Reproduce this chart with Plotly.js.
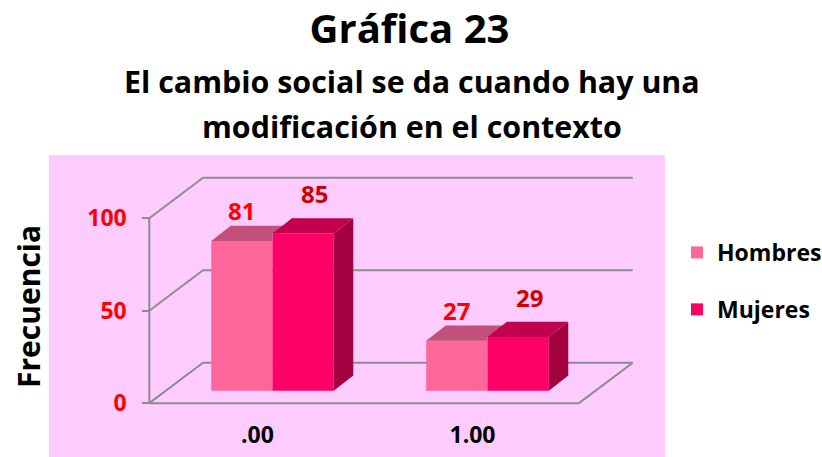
<!DOCTYPE html>
<html>
<head>
<meta charset="utf-8">
<script src="https://cdn.plot.ly/plotly-3.0.1.min.js"></script>
<style>
  html, body { margin: 0; padding: 0; background: #ffffff; }
  #chart { width: 822px; height: 457px; }
</style>
</head>
<body>
<div id="chart"></div>
<script>
// ---------------- data ----------------
const chartTitle = 'Gráfica 23';
const subtitleLines = ['El cambio social se da cuando hay una', 'modificación en el contexto'];
const yAxisTitle = 'Frecuencia';
const categories = ['.00', '1.00'];
const seriesNames = ['Hombres', 'Mujeres'];
const hombres = [81, 27];
const mujeres = [85, 29];
const yTickValues = [0, 50, 100];

// ---------------- styles / geometry ----------------
const FONT = '"Open Sans", Lato, "DejaVu Sans", sans-serif';
const frontColors = ['#FF6699', '#FF0066'];
const topColors = ['#C2507A', '#C2004E'];
const sideColors = ['#A33060', '#A3003F'];
const labelColors = ['#FF0000', '#D00000'];
const labelShift = [{x: 0, y: 30}, {x: 11, y: 40}];
const gridColor = '#8C8C8C';
const bgPink = '#FFCCFF';

const W = 822, H = 457;
const M = {l: 49, r: 157, t: 155, b: 0, autoexpand: false};
const plotW = W - M.l - M.r, plotH = H - M.t - M.b;
const xRange = [-1.0395, 1.8256];
const yRange = [-35.8, 127.45];
const kx = plotW / (xRange[1] - xRange[0]);   // px per x unit
const ky = plotH / (yRange[1] - yRange[0]);   // px per y unit
const bargap = 0.43;
const barW = (1 - bargap) / 2;

const ux = px => px / kx;
const uy = px => px / ky;   // upward pixels -> value units
const D = {x: ux(19.5), y: uy(15.3)};     // bar depth
const F = {x: ux(-16.5), y: uy(-12.4)};   // front plane offset from bar plane
const B = {x: ux(37.2), y: uy(28)};       // back wall offset from bar plane
const xL = xRange[0] + (165.8 - M.l) / kx;
const xR = xRange[0] + (595.5 - M.l) / kx;
const wallTop = Math.max(...yTickValues);

const series = [hombres, mujeres];
const xIdx = categories.map((c, i) => i);

// ---------------- traces ----------------
const traces = series.map((vals, s) => ({
  type: 'bar',
  name: seriesNames[s],
  x: xIdx,
  y: vals,
  legendgroup: 'g' + s,
  marker: {color: frontColors[s], line: {width: 0}},
  customdata: categories,
  textposition: 'none',
  hovertemplate: seriesNames[s] + ' %{customdata}: %{y}<extra></extra>'
}));
traces.push({type: 'scatter', x: [], y: [], yaxis: 'y2', showlegend: false, hoverinfo: 'skip'});

// ---------------- shapes ----------------
const shapes = [];
const line = (x0, y0, x1, y1) => ({
  type: 'line', xref: 'x', yref: 'y', x0, y0, x1, y1, layer: 'below',
  line: {color: gridColor, width: 2}
});
yTickValues.forEach(t => {
  shapes.push(line(xL + B.x, t + B.y, xR + B.x, t + B.y));
  shapes.push(line(xL + F.x, t + F.y, xL + B.x, t + B.y));
});
shapes.push(line(xL + F.x, F.y, xR + F.x, F.y));
shapes.push(line(xR + F.x, F.y, xR + B.x, B.y));
shapes.push(line(xL + F.x, F.y, xL + F.x, wallTop + F.y));

const path = pts => 'M ' + pts.map(p => p[0] + ',' + p[1]).join(' L ') + ' Z';
const face = (pts, color) => ({
  type: 'path', xref: 'x', yref: 'y', path: path(pts), fillcolor: color,
  line: {width: 0}, layer: 'above'
});
xIdx.forEach(i => {
  series.forEach((vals, s) => {
    const v = vals[i];
    const x0 = i - (1 - bargap) / 2 + s * barW;
    const x1 = x0 + barW;
    const next = s + 1 < series.length ? series[s + 1][i] : null;
    let top;
    if (next !== null && next > v) {
      const vm = Math.min(next, v + D.y);
      top = [[x0, v], [x1, v], [x1, vm], [x1 + (vm - v) * D.x / D.y, vm],
             [x1 + D.x, v + D.y], [x0 + D.x, v + D.y]];
    } else {
      top = [[x0, v], [x1, v], [x1 + D.x, v + D.y], [x0 + D.x, v + D.y]];
    }
    shapes.push(face(top, topColors[s]));
    if (next === null) {
      shapes.push(face([[x1, 0], [x1, v], [x1 + D.x, v + D.y], [x1 + D.x, D.y]], sideColors[s]));
    }
  });
});

// ---------------- annotations ----------------
const annotations = [];
xIdx.forEach(i => {
  series.forEach((vals, s) => {
    annotations.push({
      xref: 'x', yref: 'y', x: i - (1 - bargap) / 2 + (s + 0.5) * barW, y: vals[i],
      text: String(vals[i]), showarrow: false, xanchor: 'center', yanchor: 'middle',
      xshift: labelShift[s].x, yshift: labelShift[s].y,
      font: {family: FONT, size: 24, weight: 'bold', color: labelColors[s]}
    });
  });
});
const pyPaper = px => (H - M.b - px) / plotH;
const pxPaper = px => (px - M.l) / plotW;
const subSize = 30.4;
[92.3, 137.7].forEach((baseline, k) => {
  annotations.push({
    xref: 'paper', yref: 'paper', x: pxPaper(412), y: pyPaper(baseline - 0.36 * subSize),
    text: subtitleLines[k], showarrow: false, xanchor: 'center', yanchor: 'middle',
    font: {family: FONT, size: subSize, weight: 'bold', color: '#000000'}
  });
});
annotations.push({
  xref: 'paper', yref: 'paper', x: pxPaper(28), y: pyPaper(307),
  text: yAxisTitle, textangle: -90, showarrow: false, xanchor: 'center', yanchor: 'middle',
  font: {family: FONT, size: 30, weight: 'bold', color: '#000000'}
});

// ---------------- layout ----------------
const layout = {
  width: W, height: H,
  margin: M,
  paper_bgcolor: '#ffffff',
  plot_bgcolor: bgPink,
  barmode: 'group',
  bargap: bargap,
  bargroupgap: 0,
  title: {
    text: chartTitle, x: 409.5 / W, xanchor: 'center', xref: 'container',
    y: 1 - 28.5 / H, yanchor: 'middle', yref: 'container',
    font: {family: FONT, size: 40, weight: 'bold', color: '#000000'}
  },
  xaxis: {
    range: xRange, tickvals: xIdx, ticktext: categories,
    anchor: 'free', position: (H - M.b - 419) / plotH,
    showgrid: false, zeroline: false, showline: false, ticks: '',
    ticklabelshift: -15,
    tickfont: {family: FONT, size: 23, weight: 'bold', color: '#000000'},
    fixedrange: true
  },
  yaxis: {
    range: yRange, visible: false, showgrid: false, zeroline: false, fixedrange: true
  },
  yaxis2: {
    overlaying: 'y', anchor: 'free', side: 'left', position: (149.3 - M.l) / plotW,
    range: [yRange[0] + 12.4 / ky, yRange[1] + 12.4 / ky],
    tickvals: yTickValues, ticks: 'outside', ticklen: 7, tickwidth: 2, tickcolor: gridColor,
    ticklabelstandoff: 11,
    showgrid: false, zeroline: false, showline: false,
    tickfont: {family: FONT, size: 23, weight: 'bold', color: '#FF0000'},
    fixedrange: true
  },
  showlegend: true,
  legend: {
    x: pxPaper(677), xanchor: 'left', y: pyPaper(281), yanchor: 'middle',
    bgcolor: 'rgba(0,0,0,0)', borderwidth: 0, tracegroupgap: 24,
    font: {family: FONT, size: 23, weight: 'bold', color: '#000000'}
  },
  shapes: shapes,
  annotations: annotations
};

Plotly.newPlot('chart', traces, layout, {displayModeBar: false, responsive: false});
</script>
</body>
</html>
